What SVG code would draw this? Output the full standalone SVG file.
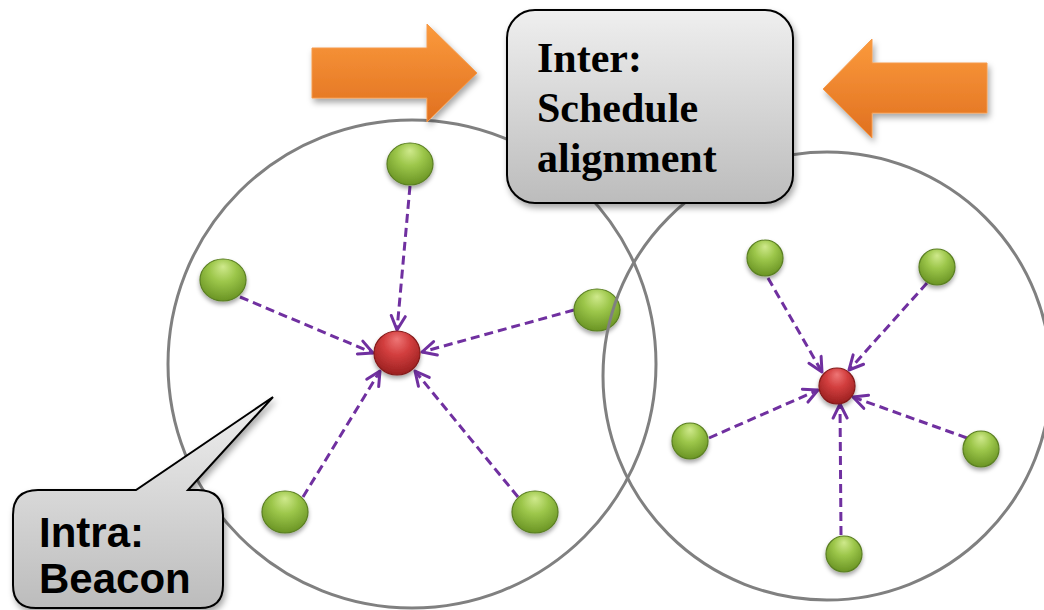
<svg xmlns="http://www.w3.org/2000/svg" width="1044" height="610" viewBox="0 0 1044 610">
  <style>
    .range { fill: none; stroke: #808080; stroke-width: 3; }
    .link { fill: none; stroke: #7030A0; stroke-width: 3; stroke-dasharray: 9 5; marker-end: url(#open-arrow); }
    .leaf { fill: url(#leafGrad); stroke: #5a7f22; stroke-width: 1.2; filter: url(#ballShadow); }
    .hub { fill: url(#hubGrad); stroke: #841a1a; stroke-width: 1.2; filter: url(#ballShadow); }
    .box { fill: url(#boxGrad); stroke: #000; stroke-width: 2; filter: url(#boxShadow); }
    .push { fill: url(#pushGrad); stroke: #f59a4a; stroke-width: 1; filter: url(#boxShadow); }
    .serif { font-family: "Liberation Serif", "Times New Roman", serif; font-weight: bold; font-size: 42px; fill: #000; }
    .sans { font-family: "Liberation Sans", Arial, sans-serif; font-weight: bold; font-size: 42px; fill: #000; }
  </style>
  <defs>
    <radialGradient id="leafGrad" cx="50%" cy="35%" r="65%" fx="50%" fy="18%">
      <stop offset="0" stop-color="#cfe98c"/>
      <stop offset="0.45" stop-color="#9cc64a"/>
      <stop offset="1" stop-color="#6a9424"/>
    </radialGradient>
    <radialGradient id="hubGrad" cx="50%" cy="35%" r="65%" fx="50%" fy="18%">
      <stop offset="0" stop-color="#ee7676"/>
      <stop offset="0.45" stop-color="#d23e3e"/>
      <stop offset="1" stop-color="#9a2020"/>
    </radialGradient>
    <linearGradient id="boxGrad" x1="0" y1="0" x2="0" y2="1">
      <stop offset="0" stop-color="#efefef"/>
      <stop offset="1" stop-color="#bcbcbc"/>
    </linearGradient>
    <linearGradient id="pushGrad" x1="0" y1="0" x2="0" y2="1">
      <stop offset="0" stop-color="#fb9a3c"/>
      <stop offset="1" stop-color="#e07020"/>
    </linearGradient>
    <filter id="ballShadow" x="-30%" y="-30%" width="160%" height="170%">
      <feDropShadow dx="0" dy="3" stdDeviation="2" flood-color="#000" flood-opacity="0.35"/>
    </filter>
    <filter id="boxShadow" x="-10%" y="-10%" width="125%" height="130%">
      <feDropShadow dx="2" dy="4" stdDeviation="3" flood-color="#000" flood-opacity="0.35"/>
    </filter>
    <marker id="open-arrow" viewBox="0 0 18 18" refX="16" refY="9" markerWidth="18" markerHeight="18" markerUnits="userSpaceOnUse" orient="auto">
      <path d="M2,2 L16,9 L2,16" fill="none" stroke="#7030A0" stroke-width="3" stroke-dasharray="none" stroke-linecap="round" stroke-linejoin="round"/>
    </marker>
  </defs>

  <!-- left coverage range -->
  <circle id="range-left" class="range" cx="412" cy="364" r="244"/>

  <!-- connectors: leaves beacon towards their hub -->
  <g id="connectors">
    <line class="link" x1="410" y1="186" x2="397" y2="330"/>
    <line class="link" x1="240" y1="297" x2="373" y2="353"/>
    <line class="link" x1="574" y1="310" x2="422" y2="352"/>
    <line class="link" x1="303" y1="497" x2="380" y2="371"/>
    <line class="link" x1="518" y1="497" x2="415" y2="371"/>
    <line class="link" x1="768" y1="278" x2="822" y2="372"/>
    <line class="link" x1="927" y1="283" x2="849" y2="370"/>
    <line class="link" x1="709" y1="438" x2="818" y2="390"/>
    <line class="link" x1="967" y1="438" x2="853" y2="397"/>
    <line class="link" x1="841" y1="535" x2="840" y2="404"/>
  </g>

  <!-- left cluster -->
  <g id="hub-left"><ellipse class="hub" cx="397" cy="353" rx="23" ry="22"/></g>
  <g id="leaf-l1"><ellipse class="leaf" cx="410" cy="164" rx="23" ry="21"/></g>
  <g id="leaf-l2"><ellipse class="leaf" cx="223" cy="280" rx="23" ry="21"/></g>
  <g id="leaf-l3"><ellipse class="leaf" cx="597" cy="310" rx="23" ry="21"/></g>
  <g id="leaf-l4"><ellipse class="leaf" cx="285" cy="512" rx="23" ry="21"/></g>
  <g id="leaf-l5"><ellipse class="leaf" cx="535" cy="512" rx="23" ry="21"/></g>

  <!-- right coverage range -->
  <circle id="range-right" class="range" cx="827" cy="376" r="224"/>

  <!-- right cluster -->
  <g id="hub-right"><circle class="hub" cx="837" cy="386" r="18"/></g>
  <g id="leaf-r1"><circle class="leaf" cx="765" cy="258" r="18"/></g>
  <g id="leaf-r2"><circle class="leaf" cx="937" cy="267" r="18"/></g>
  <g id="leaf-r3"><circle class="leaf" cx="690" cy="441" r="18"/></g>
  <g id="leaf-r4"><circle class="leaf" cx="981" cy="449" r="18"/></g>
  <g id="leaf-r5"><circle class="leaf" cx="844" cy="554" r="18"/></g>

  <!-- block arrows pointing at the inter-cluster label -->
  <g id="push-left">
    <path class="push" d="M312,48 H427 V24 L477,73 L427,122 V98 H312 Z"/>
  </g>
  <g id="push-right">
    <path class="push" d="M987,63 H872 V39 L823,89 L872,138 V113 H987 Z"/>
  </g>

  <!-- inter-cluster label -->
  <g id="label-inter">
    <rect class="box" x="507" y="10" width="286" height="193" rx="28" ry="28"/>
    <text class="serif" x="537" y="72">Inter:</text>
    <text class="serif" x="537" y="122">Schedule</text>
    <text class="serif" x="537" y="172">alignment</text>
  </g>

  <!-- intra-cluster callout -->
  <g id="label-intra">
    <path class="box" d="M38,490 H136 L273,397 L188,490 H198 Q223,490 223,515 V585 Q223,608 200,608 H36 Q13,608 13,585 V515 Q13,490 38,490 Z"/>
    <text class="sans" x="39" y="547">Intra:</text>
    <text class="sans" x="39" y="593">Beacon</text>
  </g>
</svg>
